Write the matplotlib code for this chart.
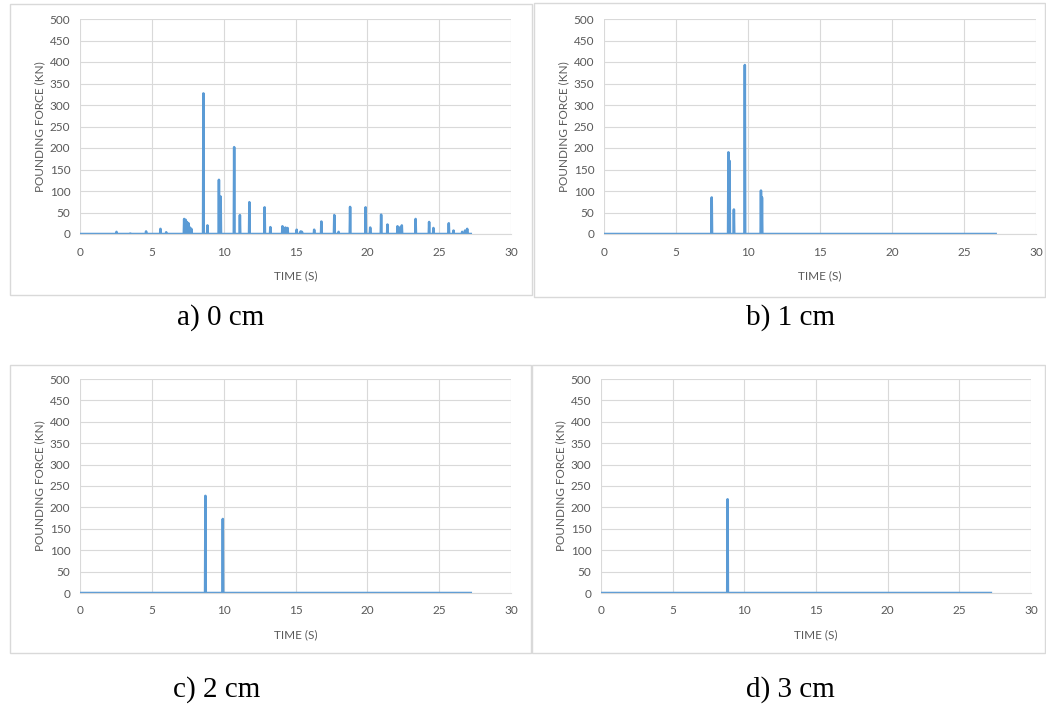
"""
plot.py

Pounding force time histories for four gap sizes (0, 1, 2, 3 cm).
"""

import matplotlib
matplotlib.use("Agg")
import matplotlib.pyplot as plt
from matplotlib.patches import Rectangle

# Spike times (s) and peak pounding forces (kN) for each gap size
TIME_A = [2.54, 3.5, 4.6, 5.6, 6.0, 7.25, 7.35, 7.45, 7.55, 7.65, 7.75,
          8.59, 8.87, 9.67, 9.79, 10.73, 11.13, 11.79, 12.85, 13.25,
          14.09, 14.3, 14.45, 15.08, 15.36, 15.45, 16.3, 16.8, 17.7, 18.0,
          18.8, 19.88, 20.2, 20.96, 21.4, 22.1, 22.25, 22.4, 23.36, 24.3,
          24.6, 25.67, 26.0, 26.6, 26.8, 26.95]
FORCE_A = [5, 1, 6, 12, 4, 35, 33, 28, 25, 15, 12,
           327, 20, 126, 87, 202, 44, 74, 62, 16,
           18, 15, 14, 10, 6, 5, 10, 29, 44, 5,
           63, 62, 15, 45, 22, 18, 15, 20, 35, 28,
           14, 25, 8, 5, 8, 12]

TIME_B = [7.48, 8.64, 8.72, 9.02, 9.78, 10.9, 10.97]
FORCE_B = [85, 190, 170, 57, 393, 101, 85]

TIME_C = [8.73, 9.94]
FORCE_C = [227, 173]

TIME_D = [8.83]
FORCE_D = [219]

END_TIME = 27.2
CAPTIONS = ["a) 0 cm", "b) 1 cm", "c) 2 cm", "d) 3 cm"]

LINE_COLOR = "#5B9BD5"
GRID_COLOR = "#D9D9D9"
TEXT_COLOR = "#595959"


def build_series(times, forces, half_width=0.025):
    """Turn spike list into a zero-baseline time history."""
    t = [0.0]
    f = [0.0]
    for ti, fi in zip(times, forces):
        t += [ti - half_width, ti, ti + half_width]
        f += [0.0, fi, 0.0]
    t.append(END_TIME)
    f.append(0.0)
    return t, f


def style_axes(ax):
    ax.set_xlim(0, 30)
    ax.set_ylim(0, 500)
    ax.set_xticks(range(0, 31, 5))
    ax.set_yticks(range(0, 501, 50))
    ax.grid(True, color=GRID_COLOR, linewidth=0.8)
    ax.set_axisbelow(True)
    for side in ["top", "right", "left"]:
        ax.spines[side].set_visible(False)
    ax.spines["bottom"].set_color(GRID_COLOR)
    ax.tick_params(axis="x", length=0, labelsize=8.5, labelcolor=TEXT_COLOR,
                   pad=9)
    ax.tick_params(axis="y", length=0, labelsize=8.5, labelcolor=TEXT_COLOR,
                   pad=7)
    ax.set_xlabel("TIME (S)", fontsize=8.5, color=TEXT_COLOR, labelpad=9)
    ax.set_ylabel("POUNDING FORCE (KN)", fontsize=8.5, color=TEXT_COLOR,
                  labelpad=3)


plt.rcParams["font.family"] = ["Lato", "DejaVu Sans"]

fig = plt.figure(figsize=(10.46, 7.06), dpi=100)
W, H = 1046.0, 706.0

# plot-area boxes in pixels: left, right, top, bottom
boxes = [(80, 511, 19, 234), (604, 1036, 19, 234),
         (80, 511, 379, 593), (601, 1031, 379, 593)]
# chart-area frames in pixels: left, right, top, bottom
frames = [(10, 532, 4, 295), (534, 1045, 3, 297),
          (10, 531, 365, 653), (532, 1045, 365, 653)]
caption_pos = [(221, 318), (790, 318), (217, 690), (790, 690)]

data = [(TIME_A, FORCE_A), (TIME_B, FORCE_B), (TIME_C, FORCE_C),
        (TIME_D, FORCE_D)]

for i in range(4):
    l, r, t, b = frames[i]
    fig.add_artist(Rectangle((l / W, 1 - b / H), (r - l) / W, (b - t) / H,
                             transform=fig.transFigure, fill=False,
                             edgecolor=GRID_COLOR, linewidth=1.0))

    l, r, t, b = boxes[i]
    ax = fig.add_axes([l / W, 1 - b / H, (r - l) / W, (b - t) / H])
    times, forces = data[i]
    x, y = build_series(times, forces)
    ax.plot(x, y, color=LINE_COLOR, linewidth=1.8)
    style_axes(ax)

    cx, cy = caption_pos[i]
    fig.text(cx / W, 1 - cy / H, CAPTIONS[i], ha="center", va="center",
             fontsize=21, family="Liberation Serif", color="black")

fig.savefig("out.png", dpi=100)
